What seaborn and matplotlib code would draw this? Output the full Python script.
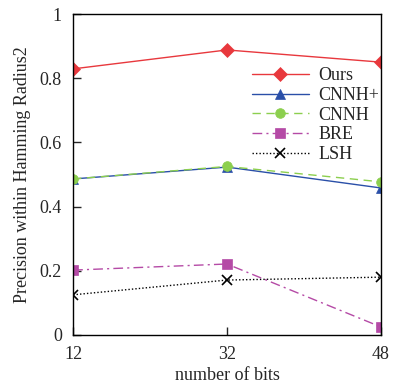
import matplotlib
matplotlib.use("Agg")
import matplotlib.pyplot as plt
import seaborn as sns
import pandas as pd

bits = ["12", "32", "48"]
ours = [0.829, 0.888, 0.850]
cnnh_plus = [0.486, 0.523, 0.458]
cnnh = [0.486, 0.525, 0.477]
bre = [0.202, 0.221, 0.025]
lsh = [0.125, 0.171, 0.180]

series = [
    ("Ours", ours, "#e8383d", "D", "-"),
    ("CNNH+", cnnh_plus, "#2a4fa8", "^", "-"),
    ("CNNH", cnnh, "#8ccf4e", "o", (0, (6, 4))),
    ("BRE", bre, "#b54aa6", "s", (0, (7, 3, 1.5, 3))),
    ("LSH", lsh, "black", "x", (0, (1, 1.5))),
]

sns.set_style("ticks")
plt.rcParams["font.family"] = ["Liberation Serif", "DejaVu Serif"]

fig, ax = plt.subplots(figsize=(3.93, 3.89), dpi=100)
fig.subplots_adjust(left=0.186, right=0.969, top=0.964, bottom=0.139)

pos = list(range(len(bits)))
for name, vals, color, marker, ls in series:
    df = pd.DataFrame({"x": pos, "y": vals})
    sns.lineplot(data=df, x="x", y="y", ax=ax, color=color, marker=marker,
                 linestyle=ls, linewidth=1.0, markersize=7,
                 markeredgecolor=color, markeredgewidth=1.2 if marker == "x" else 0.5,
                 label=name)

ax.set_xlim(0, 2)
ax.set_ylim(0, 1)
ax.set_xticks(pos)
ax.set_xticklabels(bits)
ax.set_yticks([0, 0.2, 0.4, 0.6, 0.8, 1])
ax.set_yticklabels(["0", "0.2", "0.4", "0.6", "0.8", "1"])
ax.tick_params(direction="in", labelsize=13, length=6, width=1, pad=8,
               top=False, right=False)
ax.set_xlabel("number of bits", fontsize=13, labelpad=3)
ax.set_ylabel("Precision within Hamming Radius2", fontsize=13, labelpad=6)
for s in ax.spines.values():
    s.set_visible(True)
    s.set_linewidth(1.0)
    s.set_color("black")

ax.legend(loc="upper right", bbox_to_anchor=(1.03, 0.868), frameon=False,
          fontsize=13, handlelength=3.2, handletextpad=0.5, labelspacing=0.15,
          borderaxespad=0.2)

fig.savefig("out.png", dpi=100)
